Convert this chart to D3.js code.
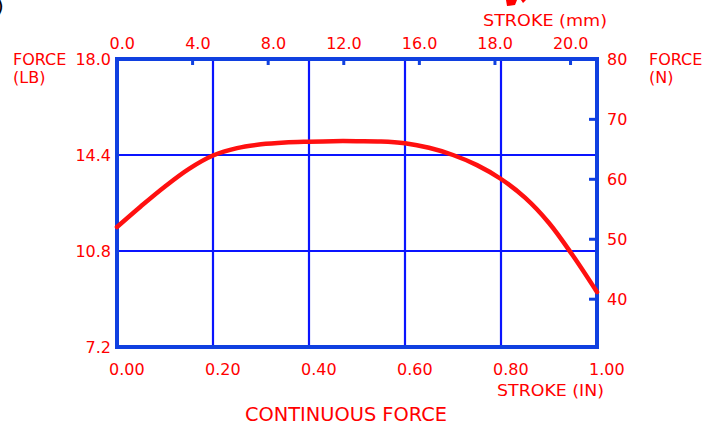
<!DOCTYPE html>
<html><head><meta charset="utf-8">
<script src="https://cdn.jsdelivr.net/npm/d3@7"></script>
<style>body{margin:0;background:#fff}svg{display:block}text{font-family:"DejaVu Sans",sans-serif;fill:#ff0000}</style>
</head><body><svg id="c" width="709" height="425"></svg>
<script>
// ---- data ----
const strokeIn = [0,0.05,0.1,0.15,0.2,0.25,0.3,0.35,0.4,0.45,0.5,0.55,0.6,0.65,0.7,0.75,0.8,0.85,0.9,0.95,1.0];
const forceLb  = [11.7,12.48,13.22,13.88,14.38,14.66,14.8,14.87,14.9,14.92,14.92,14.91,14.84,14.67,14.4,14.02,13.5,12.8,11.85,10.62,9.26];
const bottomTicks = [0,0.2,0.4,0.6,0.8,1.0];
const bottomLabels = ["0.00","0.20","0.40","0.60","0.80","1.00"];
const leftTicks = [7.2,10.8,14.4,18.0];
const leftLabels = ["7.2","10.8","14.4","18.0"];
const rightTicks = [40,50,60,70,80];
const topTicksMm = [0,4,8,12,16,20,24];
const topLabels = ["0.0","4.0","8.0","12.0","16.0","18.0","20.0"];
const LB_TO_N = 4.448;
const MM_PER_IN = 25.4;

// ---- layout ----
const L=117,R=597,T=59,B=347;
const svg = d3.select("#c");
const x = d3.scaleLinear().domain([0,1]).range([L,R]);
const y = d3.scaleLinear().domain([7.2,18]).range([B,T]);
const yN = d3.scaleLinear().domain([7.2*LB_TO_N,18*LB_TO_N]).range([B,T]);
const xMm = d3.scaleLinear().domain([0,MM_PER_IN]).range([L,R]);

const border="#1040e0", grid="#0a14ff";

// grid
svg.append("g").selectAll("line").data(bottomTicks.slice(1,-1)).join("line")
  .attr("x1",d=>x(d)).attr("x2",d=>x(d)).attr("y1",T).attr("y2",B)
  .attr("stroke",grid).attr("stroke-width",2.2);
svg.append("g").selectAll("line").data(leftTicks.slice(1,-1)).join("line")
  .attr("y1",d=>y(d)).attr("y2",d=>y(d)).attr("x1",L).attr("x2",R)
  .attr("stroke",grid).attr("stroke-width",2.2);

// right ticks (inward)
svg.append("g").selectAll("line").data(rightTicks).join("line")
  .attr("x1",R-8).attr("x2",R).attr("y1",d=>yN(d)).attr("y2",d=>yN(d))
  .attr("stroke",border).attr("stroke-width",3);
// top ticks (inward)
svg.append("g").selectAll("line").data(topTicksMm.slice(1)).join("line")
  .attr("x1",d=>xMm(d)).attr("x2",d=>xMm(d)).attr("y1",T).attr("y2",T+6)
  .attr("stroke",border).attr("stroke-width",3);

// frame
svg.append("rect").attr("x",L).attr("y",T).attr("width",R-L).attr("height",B-T)
  .attr("fill","none").attr("stroke",border).attr("stroke-width",4);

// curve
const line = d3.line().x((d,i)=>x(strokeIn[i])).y(d=>y(d)).curve(d3.curveCatmullRom.alpha(0.5));
svg.append("path").datum(forceLb).attr("d",line)
  .attr("fill","none").attr("stroke","#ff1010").attr("stroke-width",4.5).attr("stroke-linecap","round");

const fs=16;
// left labels
svg.append("g").selectAll("text").data(leftTicks).join("text")
  .attr("x",111).attr("y",d=>y(d)+6).attr("text-anchor","end").attr("font-size",fs)
  .text((d,i)=>leftLabels[i]);
// right labels
svg.append("g").selectAll("text").data(rightTicks).join("text")
  .attr("x",607).attr("y",d=>yN(d)+6).attr("font-size",fs).text(d=>d);
// bottom labels
svg.append("g").selectAll("text").data(bottomTicks).join("text")
  .attr("x",d=>x(d)-8).attr("y",375).attr("font-size",fs).text((d,i)=>bottomLabels[i]);
// top labels
svg.append("g").selectAll("text").data(topTicksMm).join("text")
  .attr("x",d=>xMm(d)+18).attr("y",49).attr("text-anchor","end").attr("font-size",fs)
  .text((d,i)=>topLabels[i]);

// axis titles
svg.append("text").attr("x",13).attr("y",65).attr("font-size",fs).text("FORCE");
svg.append("text").attr("x",13).attr("y",83).attr("font-size",fs).text("(LB)");
svg.append("text").attr("x",649).attr("y",65).attr("font-size",fs).text("FORCE");
svg.append("text").attr("x",649).attr("y",83).attr("font-size",fs).text("(N)");
svg.append("text").attr("x",483).attr("y",26).attr("font-size",fs)
  .attr("textLength",124).attr("lengthAdjust","spacingAndGlyphs").text("STROKE (mm)");
svg.append("text").attr("x",497).attr("y",396).attr("font-size",fs)
  .attr("textLength",107).attr("lengthAdjust","spacingAndGlyphs").text("STROKE (IN)");
svg.append("text").attr("x",245).attr("y",421).attr("font-size",20)
  .attr("textLength",202).attr("lengthAdjust","spacingAndGlyphs").text("CONTINUOUS FORCE");

// cut-off fragments at the top edge
svg.append("text").attr("x",-4).attr("y",13).attr("font-size",20).style("fill","#000").text(")");
svg.append("path").attr("d","M506,0L517,0L515,5L507,6Z M521,0L526,0L523,3Z").attr("fill","#ff0000");
</script></body></html>
